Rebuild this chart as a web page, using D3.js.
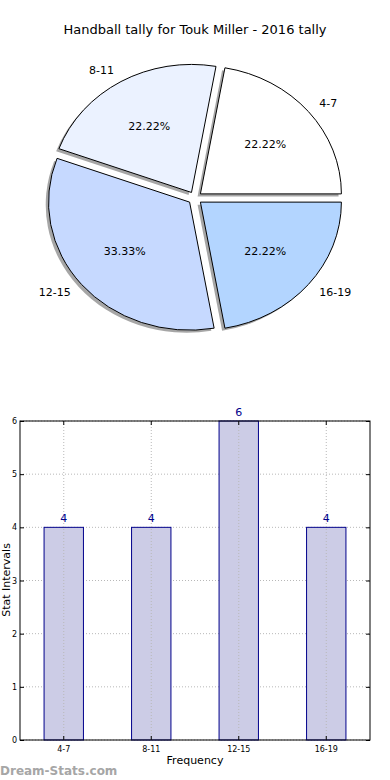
<!DOCTYPE html>
<html>
<head>
<meta charset="utf-8">
<script src="https://cdn.jsdelivr.net/npm/d3@7"></script>
<style>
  body { margin: 0; background: #fff; }
  svg { font-family: "DejaVu Sans", sans-serif; display: block; }
</style>
</head>
<body>
<div id="chart"></div>
<script>
var categories = ["4-7", "8-11", "12-15", "16-19"];
var values = [4, 4, 6, 4];
var sliceColors = ["#ffffff", "#ebf2ff", "#c6d9ff", "#b3d5ff"];
var yTicks = [0, 1, 2, 3, 4, 5, 6];

var width = 390, height = 780;
var svg = d3.select("#chart").append("svg")
    .attr("width", width)
    .attr("height", height);

// title
svg.append("text")
    .attr("x", 195).attr("y", 34)
    .attr("text-anchor", "middle")
    .style("font-size", "13px")
    .text("Handball tally for Touk Miller - 2016 tally");

// ---- pie (elliptical like the original) ----
var cx = 195, cy = 198, rx = 141, ry = 128, explode = 0.05;
var total = d3.sum(values);

var pie = d3.pie().sort(null)
    .startAngle(Math.PI / 2)
    .endAngle(Math.PI / 2 - 2 * Math.PI);
var arcs = pie(values);

var arc = d3.arc().innerRadius(0).outerRadius(1);

var pieG = svg.append("g");

function offsets(d, r) {
    var a = (d.startAngle + d.endAngle) / 2;
    return [Math.sin(a) * r * rx, -Math.cos(a) * r * ry];
}

// shadows
arcs.forEach(function (d) {
    var o = offsets(d, explode);
    pieG.append("path")
        .attr("d", arc(d))
        .attr("transform", "translate(" + (cx + o[0] - 0.02 * rx) + "," + (cy + o[1] + 0.02 * ry) + ") scale(" + rx + "," + ry + ")")
        .style("fill", "#000")
        .style("opacity", 0.35);
});

arcs.forEach(function (d, i) {
    var o = offsets(d, explode);
    pieG.append("path")
        .attr("d", arc(d))
        .attr("transform", "translate(" + (cx + o[0]) + "," + (cy + o[1]) + ") scale(" + rx + "," + ry + ")")
        .style("fill", sliceColors[i])
        .style("stroke", "#000")
        .style("stroke-width", 1)
        .attr("vector-effect", "non-scaling-stroke");

    var a = (d.startAngle + d.endAngle) / 2;
    var sx = Math.sin(a);
    var lx = cx + o[0] + sx * 1.1 * rx;
    var ly = cy + o[1] - Math.cos(a) * 1.1 * ry;
    pieG.append("text")
        .attr("x", lx).attr("y", ly)
        .attr("dy", "0.35em")
        .attr("text-anchor", sx > 0 ? "start" : "end")
        .style("font-size", "11px")
        .text(categories[i]);

    var px = cx + o[0] + sx * 0.6 * rx;
    var py = cy + o[1] - Math.cos(a) * 0.6 * ry;
    pieG.append("text")
        .attr("x", px).attr("y", py)
        .attr("dy", "0.35em")
        .attr("text-anchor", "middle")
        .style("font-size", "11px")
        .text((values[i] / total * 100).toFixed(2) + "%");
});

// ---- bar chart ----
var plotL = 20, plotR = 370, plotT = 421, plotB = 740;

var x = d3.scaleBand().domain(categories).range([plotL, plotR]).padding(0);
var y = d3.scaleLinear().domain([0, 6]).range([plotB, plotT]);
var barW = x.bandwidth() * 0.45;

var g = svg.append("g");

// grid
g.selectAll(".hgrid").data(yTicks).enter().append("line")
    .attr("x1", plotL).attr("x2", plotR)
    .attr("y1", function (d) { return y(d); })
    .attr("y2", function (d) { return y(d); })
    .style("stroke", "#b8b8b8")
    .style("stroke-dasharray", "1,2");

// bars
g.selectAll("rect.bar").data(values).enter().append("rect")
    .attr("class", "bar")
    .attr("x", function (d, i) { return x(categories[i]) + x.bandwidth() / 2 - barW / 2; })
    .attr("width", barW)
    .attr("y", function (d) { return y(d); })
    .attr("height", function (d) { return plotB - y(d); })
    .style("fill", "#ccccE6")
    .style("stroke", "#00008b")
    .style("stroke-width", 1);

g.selectAll(".vgrid").data(categories).enter().append("line")
    .attr("x1", function (d) { return x(d) + x.bandwidth() / 2; })
    .attr("x2", function (d) { return x(d) + x.bandwidth() / 2; })
    .attr("y1", plotT).attr("y2", plotB)
    .style("stroke", "#b8b8b8")
    .style("stroke-dasharray", "1,2");

// value labels
g.selectAll(".val").data(values).enter().append("text")
    .attr("x", function (d, i) { return x(categories[i]) + x.bandwidth() / 2; })
    .attr("y", function (d) { return y(d) - 5; })
    .attr("text-anchor", "middle")
    .style("font-size", "11px")
    .style("fill", "#00008b")
    .text(function (d) { return d; });

// axes (ticks inside, on all sides)
var yAxisL = d3.axisLeft(y).tickValues(yTicks).tickFormat(d3.format("d"))
    .tickSizeInner(-4).tickSizeOuter(0).tickPadding(3);
var yAxisR = d3.axisRight(y).tickValues(yTicks).tickSizeInner(-4).tickSizeOuter(0).tickFormat("");
var xAxisB = d3.axisBottom(x).tickSizeInner(-4).tickSizeOuter(0).tickPadding(6);
var xAxisT = d3.axisTop(x).tickSizeInner(-4).tickSizeOuter(0).tickFormat("");

g.append("g").attr("transform", "translate(" + plotL + ",0)").call(yAxisL);
g.append("g").attr("transform", "translate(" + plotR + ",0)").call(yAxisR);
g.append("g").attr("transform", "translate(0," + plotB + ")").call(xAxisB);
g.append("g").attr("transform", "translate(0," + plotT + ")").call(xAxisT);

g.selectAll(".domain").remove();
g.selectAll(".tick text").style("font-size", "8px").style("font-family", "DejaVu Sans, sans-serif").style("fill", "#000");
g.selectAll(".tick line").style("stroke", "#000");

g.append("rect")
    .attr("x", plotL).attr("y", plotT)
    .attr("width", plotR - plotL).attr("height", plotB - plotT)
    .style("fill", "none").style("stroke", "#000").style("stroke-width", 1);

// axis titles
svg.append("text")
    .attr("x", 195).attr("y", 764)
    .attr("text-anchor", "middle")
    .style("font-size", "11px")
    .text("Frequency");

svg.append("text")
    .attr("transform", "translate(10,580) rotate(-90)")
    .attr("text-anchor", "middle")
    .style("font-size", "11px")
    .text("Stat Intervals");

// watermark
svg.append("text")
    .attr("x", 0).attr("y", 775)
    .style("font-size", "12px")
    .style("font-weight", "bold")
    .style("fill", "#a6a6a6")
    .text("Dream-Stats.com");
</script>
</body>
</html>
